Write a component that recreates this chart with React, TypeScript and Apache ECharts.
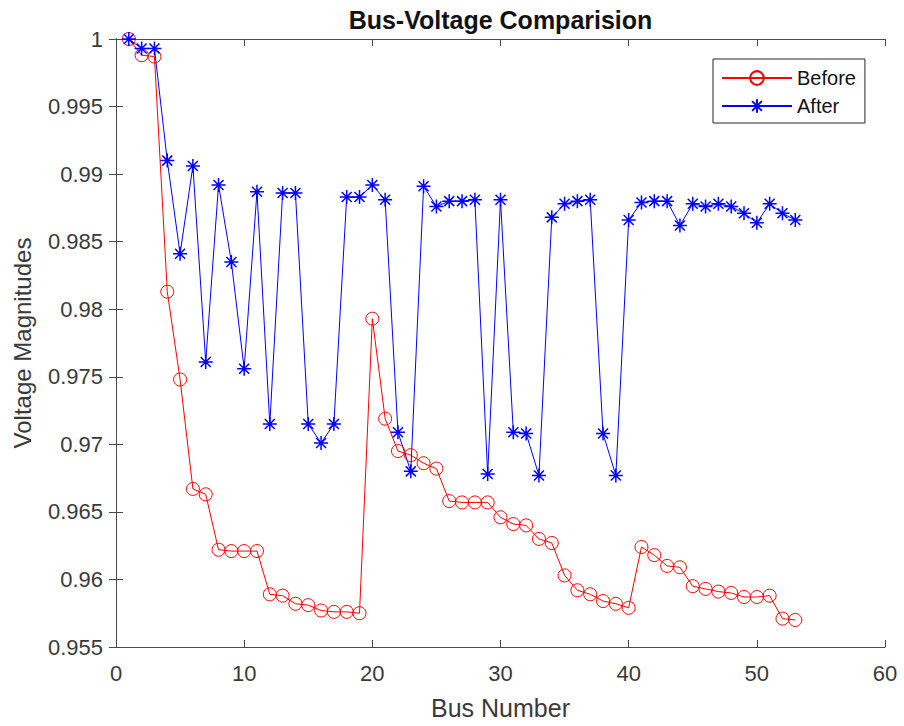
import React, { useEffect, useRef } from "react";
import * as echarts from "echarts";

// Bus numbers along the x axis
const busNumbers = [
  1, 2, 3, 4, 5, 6, 7, 8, 9, 10, 11, 12, 13, 14, 15, 16, 17, 18, 19, 20,
  21, 22, 23, 24, 25, 26, 27, 28, 29, 30, 31, 32, 33, 34, 35, 36, 37, 38, 39, 40,
  41, 42, 43, 44, 45, 46, 47, 48, 49, 50, 51, 52, 53,
];

// Voltage magnitudes (p.u.) before compensation
const voltageBefore = [
  1.0, 0.9988, 0.9987, 0.9813, 0.9748, 0.9667, 0.9663, 0.9622, 0.9621, 0.9621,
  0.9621, 0.9589, 0.9588, 0.9582, 0.9581, 0.9577, 0.9576, 0.9576, 0.9575, 0.9793,
  0.9719, 0.9695, 0.9692, 0.9686, 0.9682, 0.9658, 0.9657, 0.9657, 0.9657, 0.9646,
  0.9641, 0.964, 0.963, 0.9627, 0.9603, 0.9592, 0.9589, 0.9584, 0.9582, 0.9579,
  0.9624, 0.9618, 0.961, 0.9609, 0.9595, 0.9593, 0.9591, 0.959, 0.9587, 0.9587,
  0.9588, 0.9571, 0.957,
];

// Voltage magnitudes (p.u.) after compensation
const voltageAfter = [
  1.0, 0.9993, 0.9993, 0.991, 0.9841, 0.9906, 0.9761, 0.9892, 0.9835, 0.9756,
  0.9887, 0.9715, 0.9886, 0.9886, 0.9715, 0.9701, 0.9715, 0.9883, 0.9883, 0.9892,
  0.9881, 0.9709, 0.968, 0.9891, 0.9876, 0.988, 0.988, 0.9881, 0.9678, 0.9881,
  0.9709, 0.9708, 0.9677, 0.9868, 0.9878, 0.988, 0.9881, 0.9708, 0.9677, 0.9866,
  0.9879, 0.988, 0.988, 0.9862, 0.9878, 0.9876, 0.9878, 0.9876, 0.9871, 0.9864,
  0.9878, 0.9871, 0.9866,
];

const xMin = 0;
const xMax = 60;
const xStep = 10;
const yMin = 0.955;
const yMax = 1;
const yStep = 0.005;

const FONT = "'Liberation Sans', Arial, Helvetica, sans-serif";
const AXIS_COLOR = "#4a4a4a";
const TEXT_COLOR = "#3a3a3a";

// MATLAB-style asterisk marker: plus and cross strokes
const ASTERISK = "path://M7,0L7,14M0,7L14,7M2,2L12,12M2,12L12,2";

export default function App() {
  const ref = useRef<HTMLDivElement>(null);

  useEffect(() => {
    if (!ref.current) return;
    const chart = echarts.init(ref.current, null, { renderer: "svg" });

    const boxAxis = {
      axisLine: { show: true, lineStyle: { color: AXIS_COLOR, width: 1 } },
      axisTick: { show: true, inside: true, length: 7, lineStyle: { color: AXIS_COLOR } },
      splitLine: { show: false },
    };

    const fmtY = (v: number) => String(parseFloat(v.toFixed(3)));

    chart.setOption({
      animation: false,
      backgroundColor: "#ffffff",
      textStyle: { fontFamily: FONT },
      grid: { left: 116, right: 19, top: 39, bottom: 79, containLabel: false },
      graphic: [
        {
          type: "text",
          x: 500.5,
          y: 20,
          style: {
            text: "Bus-Voltage Comparision",
            fontFamily: FONT,
            fontSize: 25,
            fontWeight: "bold",
            fill: "#111111",
            textAlign: "center",
            textVerticalAlign: "middle",
          },
        },
      ],
      legend: {
        data: ["Before", "After"],
        orient: "vertical",
        left: 713,
        top: 59,
        itemWidth: 70,
        itemHeight: 17,
        itemGap: 6,
        padding: [8, 9, 6, 8],
        borderColor: "#262626",
        borderWidth: 1,
        backgroundColor: "#ffffff",
        textStyle: { fontFamily: FONT, fontSize: 20, color: "#111111", lineHeight: 22 },
      },
      xAxis: [
        {
          type: "value",
          min: xMin,
          max: xMax,
          interval: xStep,
          position: "bottom",
          name: "Bus Number",
          nameLocation: "middle",
          nameGap: 48,
          nameTextStyle: { fontFamily: FONT, fontSize: 25, color: TEXT_COLOR },
          axisLabel: { fontFamily: FONT, fontSize: 22, color: TEXT_COLOR, margin: 15 },
          ...boxAxis,
        },
        {
          type: "value",
          min: xMin,
          max: xMax,
          interval: xStep,
          position: "top",
          axisLabel: { show: false },
          ...boxAxis,
        },
      ],
      yAxis: [
        {
          type: "value",
          min: yMin,
          max: yMax,
          interval: yStep,
          position: "left",
          name: "Voltage Magnitudes",
          nameLocation: "middle",
          nameGap: 82,
          nameTextStyle: { fontFamily: FONT, fontSize: 24, color: TEXT_COLOR },
          axisLabel: {
            fontFamily: FONT,
            fontSize: 22,
            color: TEXT_COLOR,
            margin: 13,
            formatter: fmtY,
          },
          ...boxAxis,
        },
        {
          type: "value",
          min: yMin,
          max: yMax,
          interval: yStep,
          position: "right",
          axisLabel: { show: false },
          ...boxAxis,
        },
      ],
      series: [
        {
          name: "Before",
          type: "line",
          xAxisIndex: 0,
          yAxisIndex: 0,
          data: busNumbers.map((b, i) => [b, voltageBefore[i]]),
          symbol: "circle",
          symbolSize: 13,
          showAllSymbol: true,
          clip: false,
          lineStyle: { color: "#ff0000", width: 1 },
          itemStyle: { color: "rgba(0,0,0,0)", borderColor: "#ff0000", borderWidth: 1 },
        },
        {
          name: "After",
          type: "line",
          xAxisIndex: 0,
          yAxisIndex: 0,
          data: busNumbers.map((b, i) => [b, voltageAfter[i]]),
          symbol: ASTERISK,
          symbolSize: 14,
          showAllSymbol: true,
          clip: false,
          lineStyle: { color: "#0000ff", width: 1 },
          itemStyle: { color: "#0000ff", borderColor: "#0000ff", borderWidth: 1.5 },
        },
      ],
    });

    return () => chart.dispose();
  }, []);

  return (
    <div
      ref={ref}
      style={{ position: "absolute", left: 0, top: 0, width: 904, height: 726 }}
    />
  );
}
